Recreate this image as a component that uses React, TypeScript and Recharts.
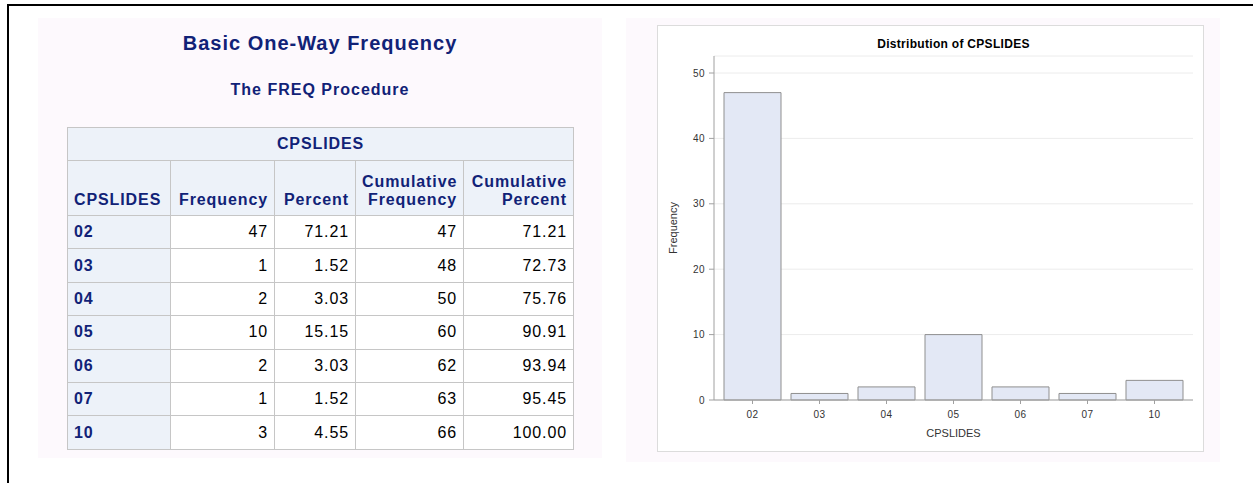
import * as React from 'react';
import { BarChart, Bar, XAxis, YAxis, CartesianGrid } from 'recharts';

const categories = ['02', '03', '04', '05', '06', '07', '10'];
const frequencies = [47, 1, 2, 10, 2, 1, 3];
const percents = ['71.21', '1.52', '3.03', '15.15', '3.03', '1.52', '4.55'];
const cumFrequencies = [47, 48, 50, 60, 62, 63, 66];
const cumPercents = ['71.21', '72.73', '75.76', '90.91', '93.94', '95.45', '100.00'];
const yTicks = [0, 10, 20, 30, 40, 50];

const chartData = categories.map((name, i) => ({ name, value: frequencies[i] }));

const font = "'Liberation Sans', Arial, Helvetica, sans-serif";
const navy = '#112277';
const headBg = '#edf2f9';
const cellBorder = '1px solid #c6c6c6';

const th: React.CSSProperties = {
  background: headBg,
  border: cellBorder,
  color: navy,
  fontWeight: 'bold',
  fontSize: 16,
  letterSpacing: 0.9,
  padding: '0 6px 6px 6px',
  verticalAlign: 'bottom',
  lineHeight: '18px',
};

const td: React.CSSProperties = {
  border: cellBorder,
  background: '#fff',
  color: '#000',
  fontSize: 16,
  letterSpacing: 0.9,
  textAlign: 'right',
  padding: '0 6px',
  height: 32.4,
  verticalAlign: 'middle',
};

function FreqTable() {
  return (
    <table
      style={{
        position: 'absolute',
        left: 67,
        top: 127,
        width: 506,
        borderCollapse: 'collapse',
        tableLayout: 'fixed',
        fontFamily: font,
      }}
    >
      <colgroup>
        <col style={{ width: 103 }} />
        <col style={{ width: 104 }} />
        <col style={{ width: 81 }} />
        <col style={{ width: 108 }} />
        <col style={{ width: 110 }} />
      </colgroup>
      <thead>
        <tr>
          <th colSpan={5} style={{ ...th, height: 32, verticalAlign: 'middle', textAlign: 'center', padding: 0 }}>
            CPSLIDES
          </th>
        </tr>
        <tr>
          <th style={{ ...th, height: 48, textAlign: 'left' }}>CPSLIDES</th>
          <th style={{ ...th, textAlign: 'right' }}>Frequency</th>
          <th style={{ ...th, textAlign: 'right' }}>Percent</th>
          <th style={{ ...th, textAlign: 'right' }}>
            Cumulative
            <br />
            Frequency
          </th>
          <th style={{ ...th, textAlign: 'right' }}>
            Cumulative
            <br />
            Percent
          </th>
        </tr>
      </thead>
      <tbody>
        {categories.map((c, i) => (
          <tr key={c}>
            <th style={{ ...th, textAlign: 'left', verticalAlign: 'middle', padding: '0 6px', height: 32.4 }}>{c}</th>
            <td style={td}>{frequencies[i]}</td>
            <td style={td}>{percents[i]}</td>
            <td style={td}>{cumFrequencies[i]}</td>
            <td style={td}>{cumPercents[i]}</td>
          </tr>
        ))}
      </tbody>
    </table>
  );
}

export default function App() {
  const tickStyle = { fill: '#333', fontSize: 10, fontFamily: font, letterSpacing: 0.5 };
  return (
    <div
      style={{
        position: 'absolute',
        left: 0,
        top: 0,
        width: 1253,
        height: 483,
        overflow: 'hidden',
        background: '#fff',
        fontFamily: font,
      }}
    >
      <div
        style={{
          position: 'absolute',
          left: 7,
          top: 4,
          width: 1300,
          height: 600,
          borderLeft: '2px solid #000',
          borderTop: '2px solid #000',
        }}
      />
      {/* left panel: frequency table */}
      <div style={{ position: 'absolute', left: 38, top: 18, width: 564, height: 440, background: '#fdf9fd' }} />
      <div
        style={{
          position: 'absolute',
          left: 38,
          top: 32,
          width: 564,
          textAlign: 'center',
          color: navy,
          fontWeight: 'bold',
          fontSize: 20,
          letterSpacing: 1,
        }}
      >
        Basic One-Way Frequency
      </div>
      <div
        style={{
          position: 'absolute',
          left: 38,
          top: 81,
          width: 564,
          textAlign: 'center',
          color: navy,
          fontWeight: 'bold',
          fontSize: 16,
          letterSpacing: 1,
        }}
      >
        The FREQ Procedure
      </div>
      <FreqTable />

      {/* right panel: bar chart */}
      <div style={{ position: 'absolute', left: 626, top: 18, width: 594, height: 444, background: '#fdf9fd' }} />
      <div
        style={{
          position: 'absolute',
          left: 657,
          top: 25,
          width: 545,
          height: 425,
          background: '#fff',
          border: '1px solid #dcdcdc',
        }}
      >
        <div
          style={{
            position: 'absolute',
            left: 56,
            top: 11,
            width: 479,
            textAlign: 'center',
            fontSize: 12,
            letterSpacing: 0.3,
            fontWeight: 'bold',
            color: '#000',
          }}
        >
          Distribution of CPSLIDES
        </div>
        <BarChart width={545} height={425} data={chartData} margin={{ top: 30, right: 10, left: 0, bottom: 0 }}>
          <CartesianGrid vertical={false} stroke="#ececec" xAxisId="b" yAxisId="l" />
          <XAxis
            xAxisId="b"
            dataKey="name"
            padding={{ left: 5, right: 5 }}
            height={51}
            tickSize={4}
            tickMargin={7}
            stroke="#a0a0a0"
            tick={tickStyle}
            label={{ value: 'CPSLIDES', position: 'insideBottom', offset: 14, fill: '#333', fontSize: 11, fontFamily: font }}
          />
          <XAxis xAxisId="t" dataKey="name" orientation="top" height={0} tick={false} tickLine={false} stroke="#d0d0d0" />
          <YAxis
            yAxisId="l"
            width={56}
            domain={[0, 52.6]}
            ticks={yTicks}
            tickSize={5}
            tickMargin={4}
            stroke="#a0a0a0"
            tick={tickStyle}
            label={{ value: 'Frequency', angle: -90, position: 'insideLeft', offset: 15, fill: '#333', fontSize: 11, fontFamily: font, style: { textAnchor: 'middle' } }}
          />
          <YAxis yAxisId="r" orientation="right" width={0} domain={[0, 52.6]} tick={false} tickLine={false} stroke="#d0d0d0" />
          <Bar
            xAxisId="b"
            yAxisId="l"
            dataKey="value"
            barSize={57}
            fill="#e3e8f5"
            stroke="#8f8f8f"
            strokeWidth={1}
            isAnimationActive={false}
          />
        </BarChart>
      </div>
    </div>
  );
}
